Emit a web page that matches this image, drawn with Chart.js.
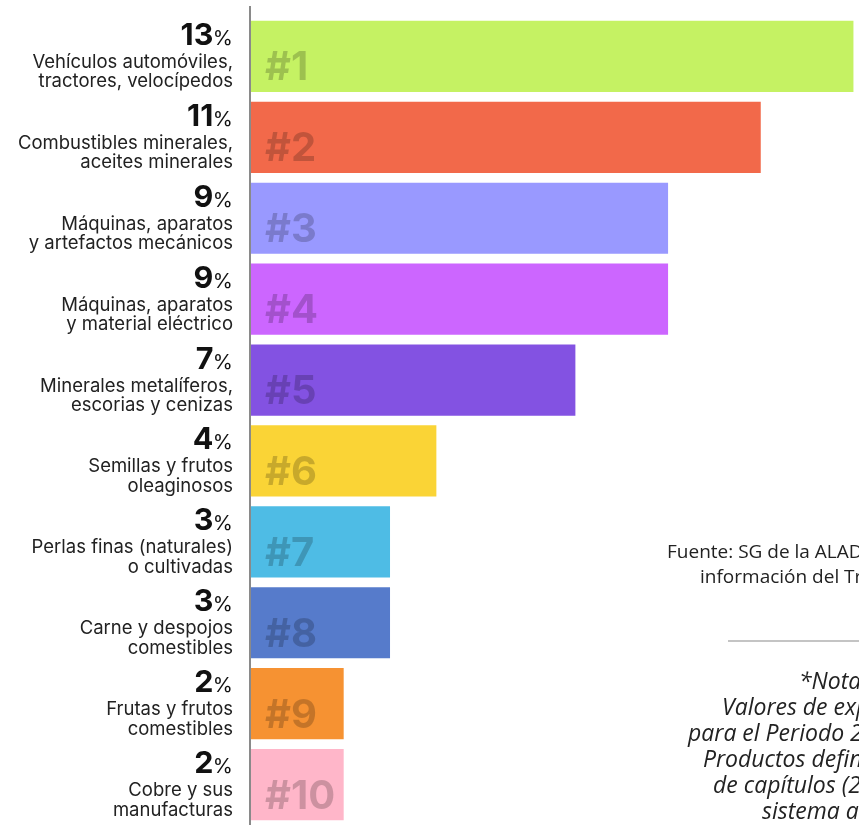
<!DOCTYPE html>
<html lang="es">
<head>
<meta charset="utf-8">
<script src="https://cdn.jsdelivr.net/npm/chart.js@4.4.1/dist/chart.umd.min.js"></script>
<style>
  html, body { margin: 0; padding: 0; background: #fff; overflow: hidden; }
  #wrap { position: relative; width: 859px; height: 825px; overflow: hidden; }
  #chart { position: absolute; left: 0; top: 0; }
  .side { position: absolute; white-space: nowrap; color: #222; font-family: "Open Sans", sans-serif; line-height: 26px; }
  .src { font-size: 19px; }
  .note { font-size: 23px; font-style: italic; }
  #rule { position: absolute; left: 728px; top: 640px; width: 300px; height: 0; border-top: 2px solid #c4c4c4; }
</style>
</head>
<body>
<div id="wrap">
  <canvas id="chart" width="859" height="825"></canvas>
  <div class="side src" style="left:667px; top:538px;">Fuente: SG de la ALADI con base en</div>
  <div class="side src" style="left:700px; top:563px;">información del Trade Map</div>
  <div id="rule"></div>
  <div class="side note" style="left:799px; top:667px;">*Nota:</div>
  <div class="side note" style="left:722px; top:693px;">Valores de exportación</div>
  <div class="side note" style="left:688px; top:719px;">para el Periodo 2019-2021.</div>
  <div class="side note" style="left:703px; top:745px;">Productos definidos a nivel</div>
  <div class="side note" style="left:713px; top:771px;">de capítulos (2 dígitos) del</div>
  <div class="side note" style="left:762px; top:797px;">sistema armonizado.</div>
</div>
<script>
// ── data ──────────────────────────────────────────────────────────────
const categories = [
  ["Vehículos automóviles,", "tractores, velocípedos"],
  ["Combustibles minerales,", "aceites minerales"],
  ["Máquinas, aparatos", "y artefactos mecánicos"],
  ["Máquinas, aparatos", "y material eléctrico"],
  ["Minerales metalíferos,", "escorias y cenizas"],
  ["Semillas y frutos", "oleaginosos"],
  ["Perlas finas (naturales)", "o cultivadas"],
  ["Carne y despojos", "comestibles"],
  ["Frutas y frutos", "comestibles"],
  ["Cobre y sus", "manufacturas"],
];
const shares = [13, 11, 9, 9, 7, 4, 3, 3, 2, 2];
const ranks = ["#1", "#2", "#3", "#4", "#5", "#6", "#7", "#8", "#9", "#10"];
const barColors = [
  "#c5f263", "#f2694a", "#9999ff", "#cc66ff", "#8352e2",
  "#fad436", "#4ebce5", "#567bcb", "#f69232", "#ffb6c9",
];

// ── plugins ───────────────────────────────────────────────────────────
const sideLabels = {
  id: "sideLabels",
  afterDraw(chart) {
    const { ctx, chartArea } = chart;
    const y = chart.scales.y;
    const right = 233;

    // axis line (a bit taller than the plot area)
    ctx.save();
    ctx.strokeStyle = "#8a8a8a";
    ctx.lineWidth = 2;
    ctx.beginPath();
    ctx.moveTo(chartArea.left - 1, 6);
    ctx.lineTo(chartArea.left - 1, chart.height);
    ctx.stroke();

    ctx.textAlign = "right";
    ctx.textBaseline = "alphabetic";
    categories.forEach((lines, i) => {
      const cy = y.getPixelForValue(i);
      ctx.font = "400 20.5px Inter";
      const pw = ctx.measureText("%").width;
      ctx.fillStyle = "#111";
      ctx.fillText("%", right, cy - 11.5);
      ctx.font = "700 30.5px Inter";
      ctx.fillText(String(shares[i]), right - pw + 0.5, cy - 11.5);

      ctx.font = "400 18.5px Inter";
      ctx.fillStyle = "#222";
      ctx.fillText(lines[0], right, cy + 11.5);
      ctx.fillText(lines[1], right, cy + 31);
    });

    // rank tags inside the bars
    const meta = chart.getDatasetMeta(0);
    ctx.textAlign = "left";
    ctx.font = "700 40px Inter";
    ctx.fillStyle = "rgba(0,0,0,0.2)";
    meta.data.forEach((bar, i) => {
      ctx.fillText(ranks[i], bar.base + 14, bar.y + 24);
    });
    ctx.restore();
  },
};

function draw() {
  new Chart(document.getElementById("chart"), {
    type: "bar",
    data: {
      labels: categories.map((c) => c.join(" ")),
      datasets: [{
        data: shares,
        backgroundColor: barColors,
        borderWidth: 0,
        barPercentage: 0.88,
        categoryPercentage: 1,
      }],
    },
    options: {
      indexAxis: "y",
      responsive: false,
      animation: false,
      events: [],
      layout: { padding: { left: 251, top: 16, right: 0, bottom: 0 } },
      scales: {
        x: { display: false, min: 0, max: 13.12 },
        y: { display: false },
      },
      plugins: { legend: { display: false }, tooltip: { enabled: false } },
    },
    plugins: [sideLabels],
  });
}

Promise.all([
  document.fonts.load("700 30px Inter"),
  document.fonts.load("400 18px Inter"),
  document.fonts.load("700 40px Inter"),
]).then(draw, draw);
</script>
</body>
</html>
